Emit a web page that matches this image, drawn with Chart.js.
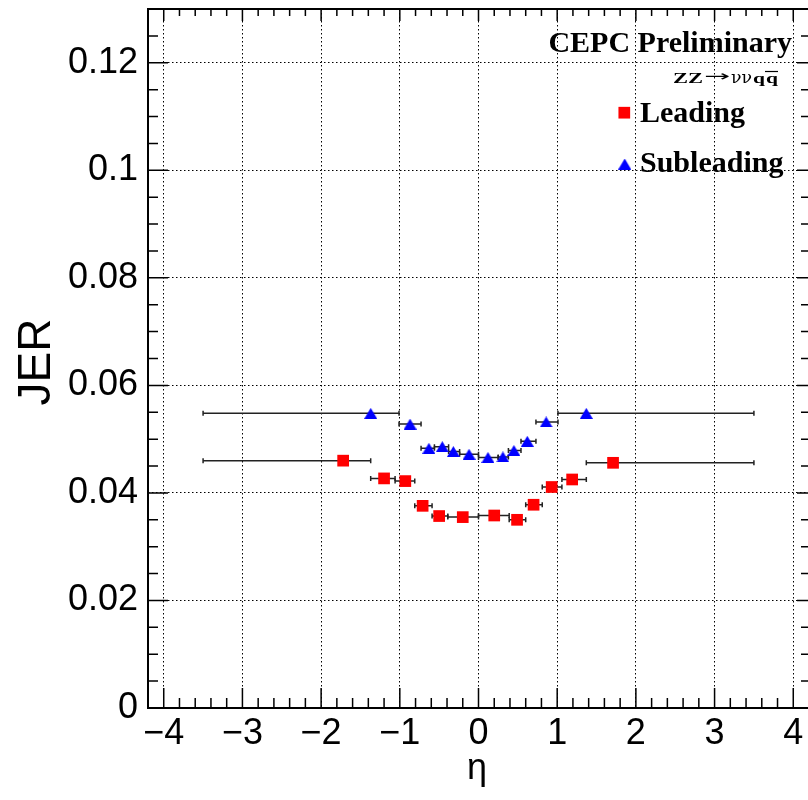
<!DOCTYPE html>
<html><head><meta charset="utf-8">
<script src="https://cdn.jsdelivr.net/npm/chart.js@4.4.1/dist/chart.umd.min.js"></script>
<style>html,body{margin:0;padding:0;overflow:hidden;background:#fff}canvas{display:block}</style>
</head><body>
<canvas id="c" width="810" height="800"></canvas>
<script>
// ---- data ----
const leadingEta     = [-1.72, -1.20, -0.93, -0.71, -0.50, -0.20, 0.20, 0.49, 0.70, 0.93, 1.19, 1.71];
const leadingJER     = [0.0460, 0.0427, 0.0422, 0.0376, 0.0357, 0.0355, 0.0358, 0.0350, 0.0378, 0.0411, 0.0425, 0.0456];
const leadingEtaLow  = [-3.5, -1.37, -1.06, -0.81, -0.59, -0.39, 0.00, 0.39, 0.60, 0.81, 1.06, 1.37];
const leadingEtaHigh = [-1.37, -1.06, -0.81, -0.59, -0.39, 0.00, 0.39, 0.60, 0.81, 1.06, 1.37, 3.5];

const subEta     = [-1.37, -0.87, -0.63, -0.46, -0.32, -0.12, 0.12, 0.31, 0.45, 0.62, 0.86, 1.37];
const subJER     = [0.0548, 0.0528, 0.0483, 0.0486, 0.0477, 0.0472, 0.0466, 0.0467, 0.0479, 0.0496, 0.0532, 0.0548];
const subEtaLow  = [-3.5, -1.01, -0.73, -0.56, -0.38, -0.24, 0.00, 0.25, 0.38, 0.54, 0.73, 1.01];
const subEtaHigh = [-1.01, -0.73, -0.56, -0.38, -0.24, 0.00, 0.25, 0.38, 0.54, 0.73, 1.01, 3.5];

const xTickValues = [-4, -3, -2, -1, 0, 1, 2, 3, 4];
const xTickLabels = ['\u22124', '\u22123', '\u22122', '\u22121', '0', '1', '2', '3', '4'];
const yTickValues = [0, 0.02, 0.04, 0.06, 0.08, 0.1, 0.12];
const yTickLabels = ['0', '0.02', '0.04', '0.06', '0.08', '0.1', '0.12'];

const seriesNames = ['Leading', 'Subleading'];
const titleText = 'CEPC Preliminary';
const processParts = ['ZZ', '\u2192', '\u03bd\u03bd', 'q', 'q'];
const xTitle = '\u03b7';
const yTitle = 'JER';

// ---- styles ----
const RED = '#ff0000', BLUE = '#0000ff';
const FRAME_RIGHT = 809;

function makeTriangle(w, h) {
  const c = document.createElement('canvas');
  c.width = w; c.height = h;
  const g = c.getContext('2d');
  g.fillStyle = BLUE;
  g.beginPath();
  g.moveTo(w / 2, 0); g.lineTo(w, h); g.lineTo(0, h); g.closePath();
  g.fill();
  return c;
}
const triImg = makeTriangle(13, 11);

const fixArea = {
  id: 'fixArea',
  afterLayout(chart) {
    const ca = chart.chartArea;
    ca.right = FRAME_RIGHT; ca.width = ca.right - ca.left;
    const xs = chart.scales.x;
    xs.right = FRAME_RIGHT; xs.width = xs.right - xs.left;
    xs.configure();
  }
};

const errorBars = {
  id: 'errorBars',
  beforeDatasetsDraw(chart) {
    const ctx = chart.ctx, xs = chart.scales.x, ys = chart.scales.y;
    ctx.save();
    ctx.strokeStyle = '#222';
    ctx.lineWidth = 1.5;
    chart.data.datasets.forEach(ds => {
      ds.data.forEach((p, i) => {
        const y = ys.getPixelForValue(p.y);
        const x1 = xs.getPixelForValue(ds.xLow[i]);
        const x2 = xs.getPixelForValue(ds.xHigh[i]);
        ctx.beginPath();
        ctx.moveTo(x1, y); ctx.lineTo(x2, y);
        ctx.moveTo(x1, y - 2.5); ctx.lineTo(x1, y + 2.5);
        ctx.moveTo(x2, y - 2.5); ctx.lineTo(x2, y + 2.5);
        ctx.stroke();
      });
    });
    ctx.restore();
  }
};

function fitText(ctx, text, font, x1, x2, baseline) {
  ctx.save();
  ctx.font = font;
  ctx.textAlign = 'left';
  const w = ctx.measureText(text).width;
  const s = (x2 - x1) / w;
  ctx.translate(x1, baseline);
  ctx.scale(s, 1);
  ctx.fillText(text, 0, 0);
  ctx.restore();
}

const frameAndText = {
  id: 'frameAndText',
  afterDraw(chart) {
    const ctx = chart.ctx, xs = chart.scales.x, ys = chart.scales.y;
    const a = chart.chartArea;
    ctx.save();
    ctx.strokeStyle = '#000';
    // ticks
    ctx.lineWidth = 1.5;
    ctx.beginPath();
    const isMajorX = v => xTickValues.some(t => Math.abs(t - v) < 1e-6);
    for (let k = -21; k <= 21; k++) {
      const v = k / 5;
      const px = xs.getPixelForValue(v);
      const maj = isMajorX(v);
      const lb = maj ? 20 : 10, lt = maj ? 12 : 7;
      ctx.moveTo(px, a.bottom); ctx.lineTo(px, a.bottom - lb);
      ctx.moveTo(px, a.top); ctx.lineTo(px, a.top + lt);
    }
    const isMajorY = v => yTickValues.some(t => Math.abs(t - v) < 1e-6);
    for (let k = 0; k <= 26; k++) {
      const v = k / 200;
      const py = ys.getPixelForValue(v);
      const maj = isMajorY(v);
      const ll = maj ? 20 : 10, lr = maj ? 12 : 8;
      ctx.moveTo(a.left, py); ctx.lineTo(a.left + ll, py);
      ctx.moveTo(a.right, py); ctx.lineTo(a.right - lr, py);
    }
    ctx.stroke();
    // frame
    ctx.lineWidth = 2;
    ctx.strokeRect(a.left, a.top, a.right - a.left, a.bottom - a.top);

    // axis titles
    ctx.fillStyle = '#000';
    ctx.font = '36px "Liberation Sans"';
    ctx.textAlign = 'center';
    ctx.textBaseline = 'alphabetic';
    ctx.fillText(xTitle, 477, 779);
    ctx.save();
    ctx.translate(50, 362);
    ctx.rotate(-Math.PI / 2);
    ctx.font = '46px "Liberation Sans"';
    ctx.fillText(yTitle, 0, 0);
    ctx.restore();

    // header texts
    ctx.font = 'bold 30px "Liberation Serif"';
    ctx.textAlign = 'right';
    ctx.fillText(titleText, 792, 52);
    fitText(ctx, processParts[0], 'bold 15px "Liberation Serif"', 673, 703, 83);
    fitText(ctx, processParts[1], '15px "DejaVu Sans"', 704, 730, 81);
    fitText(ctx, processParts[2], '16px "DejaVu Serif"', 731, 752, 83);
    fitText(ctx, processParts[3], 'bold 15px "Liberation Serif"', 753, 765, 83);
    fitText(ctx, processParts[4], 'bold 15px "Liberation Serif"', 766, 778, 83);
    ctx.lineWidth = 1.2;
    ctx.beginPath();
    ctx.moveTo(765, 71.5); ctx.lineTo(778, 71.5);
    ctx.stroke();

    // legend
    ctx.font = 'bold 30px "Liberation Serif"';
    ctx.textAlign = 'left';
    ctx.fillStyle = RED;
    ctx.fillRect(624.3 - 5.85, 112.7 - 5.85, 11.7, 11.7);
    ctx.drawImage(triImg, 624.7 - 6.5, 164 - 5.5);
    ctx.fillStyle = '#000';
    ctx.fillText(seriesNames[0], 640, 122);
    ctx.fillText(seriesNames[1], 640, 172);
    ctx.restore();
  }
};

new Chart(document.getElementById('c'), {
  type: 'scatter',
  data: {
    datasets: [
      { label: seriesNames[0], data: leadingEta.map((x, i) => ({ x, y: leadingJER[i] })),
        xLow: leadingEtaLow, xHigh: leadingEtaHigh,
        pointStyle: 'rect', pointRadius: 8.27, backgroundColor: RED, borderWidth: 0 },
      { label: seriesNames[1], data: subEta.map((x, i) => ({ x, y: subJER[i] })),
        xLow: subEtaLow, xHigh: subEtaHigh,
        pointStyle: triImg, pointRadius: 7, backgroundColor: BLUE, borderWidth: 0 }
    ]
  },
  options: {
    responsive: false, animation: false, devicePixelRatio: 1,
    layout: { padding: { top: 9, right: 1, left: 0, bottom: 0 } },
    plugins: { legend: { display: false }, tooltip: { enabled: false } },
    scales: {
      x: {
        type: 'linear', min: -4.2, max: 4.2,
        afterBuildTicks: s => { s.ticks = xTickValues.map(v => ({ value: v })); },
        afterFit: s => { s.height = 92; s.paddingLeft = 0; s.paddingRight = 0; },
        ticks: { callback: (v, i) => xTickLabels[i], font: { family: 'Liberation Sans', size: 36, lineHeight: 1.2 },
                 color: '#000', padding: 4, maxRotation: 0, autoSkip: false },
        grid: { color: '#000', lineWidth: 1, drawTicks: false },
        border: { display: false, dash: [1.5, 2.5] }
      },
      y: {
        type: 'linear', min: 0, max: 0.13,
        afterBuildTicks: s => { s.ticks = yTickValues.map(v => ({ value: v })); },
        afterFit: s => { s.width = 148; s.paddingTop = 0; s.paddingBottom = 0; },
        ticks: { callback: (v, i) => yTickLabels[i], font: { family: 'Liberation Sans', size: 36, lineHeight: 1.2 },
                 color: '#000', padding: 10, autoSkip: false },
        grid: { color: '#000', lineWidth: 1, drawTicks: false },
        border: { display: false, dash: [1.5, 2.5] }
      }
    }
  },
  plugins: [fixArea, errorBars, frameAndText]
});
</script>
</body></html>
